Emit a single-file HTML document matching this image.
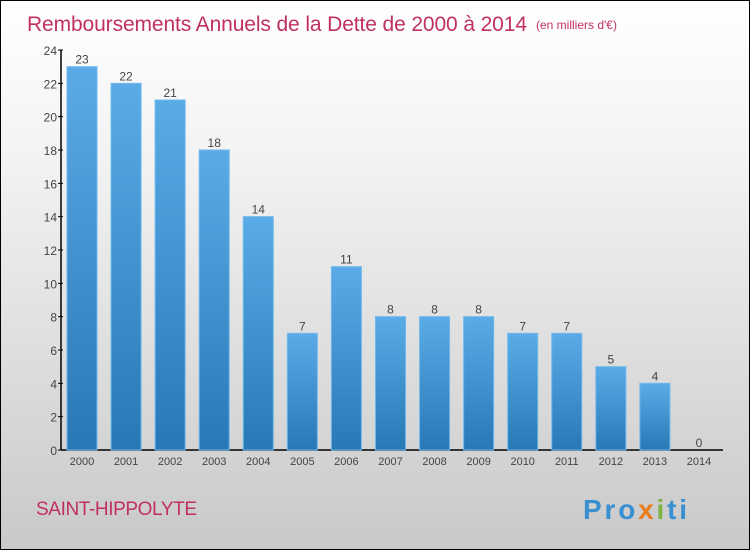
<!DOCTYPE html>
<html><head><meta charset="utf-8">
<style>
body{margin:0;}
#wrap{width:748px;height:548px;border:1px solid #000;background:linear-gradient(#fff,#f2f2f2 30%,#c9c9c9);position:relative;overflow:hidden;font-family:"Liberation Sans",sans-serif;}
</style></head><body>
<div id="wrap">
<svg id="chart" width="748" height="548" style="position:absolute;left:0;top:0">
<defs><linearGradient id="bg" x1="0" y1="0" x2="0" y2="1"><stop offset="0" stop-color="#5aabe6"/><stop offset="1" stop-color="#2878b6"/></linearGradient></defs>
<text x="26" y="30" font-size="21" fill="#c03060" textLength="500">Remboursements Annuels de la Dette de 2000 à 2014</text>
<text x="535" y="28" font-size="12" fill="#c03060">(en milliers d'€)</text>
<text x="35" y="514" font-size="19" fill="#c03060" textLength="161">SAINT-HIPPOLYTE</text>
<text x="582" y="518" font-size="28" font-weight="bold" textLength="104"><tspan fill="#3a8fd0">Pro</tspan><tspan fill="#e87c1e">x</tspan><tspan fill="#7cb342">i</tspan><tspan fill="#3a8fd0">ti</tspan></text>
<g id="plot"></g>
</svg>
</div>
<script>
const categories=["2000","2001","2002","2003","2004","2005","2006","2007","2008","2009","2010","2011","2012","2013","2014"];
const values=[23,22,21,18,14,7,11,8,8,8,7,7,5,4,0];
const yTicks=[0,2,4,6,8,10,12,14,16,18,20,22,24];
const NS="http://www.w3.org/2000/svg";
const g=document.getElementById('plot');
const x0=60,y0=449,yTop=49,yMax=24,step=44.07,bw=30;
const y=v=>y0-(v/yMax)*(y0-yTop);
const xc=i=>x0+21+i*step;
function mk(t,a){const e=document.createElementNS(NS,t);for(const k in a)e.setAttribute(k,a[k]);g.appendChild(e);return e;}
let ax=mk('line',{x1:x0,y1:yTop,x2:x0,y2:y0,stroke:'#000','stroke-width':1.5});


let bx=mk('line',{x1:x0,y1:y0,x2:722,y2:y0,stroke:'#000','stroke-width':1.5});


yTicks.forEach(t=>{
 const tk=mk('line',{x1:x0-3,y1:y(t),x2:x0+2,y2:y(t),stroke:'#000'});
 
 
 const tl=mk('text',{x:x0-4,y:y(t)+5,'font-size':12,fill:'#444','text-anchor':'end'});
 tl.textContent=t;
 
 
});
categories.forEach((c,i)=>{
 const v=values[i];
 if(v>0){const r=mk('rect',{x:xc(i)-bw/2,y:y(v),width:bw,height:y0-y(v),fill:'url(#bg)',stroke:'#6db8ee','stroke-width':1});
 
 }
 const vl=mk('text',{x:xc(i),y:y(v)-3,'font-size':12,fill:'#444','text-anchor':'middle'});
 vl.textContent=v;
 
 
 const xl=mk('text',{x:xc(i),y:y0+15,'font-size':11,fill:'#444','text-anchor':'middle'});
 xl.textContent=c;
 
 
});
</script>
</body></html>
